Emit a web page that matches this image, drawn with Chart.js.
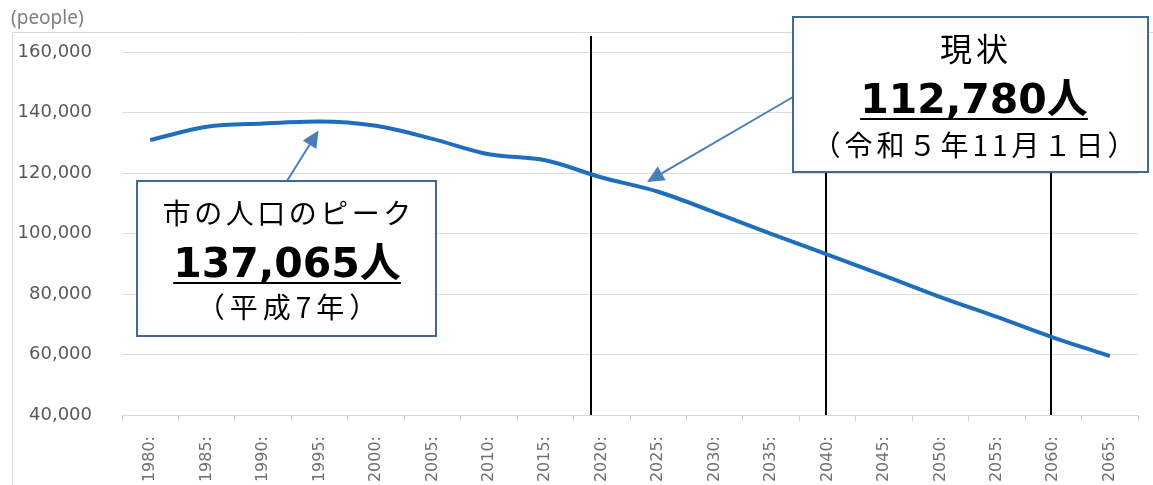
<!DOCTYPE html>
<html>
<head>
<meta charset="utf-8">
<script src="https://cdn.jsdelivr.net/npm/chart.js@4/dist/chart.umd.min.js"></script>
<style>
html,body{margin:0;padding:0;background:#fff;}
#wrap{position:relative;width:1153px;height:485px;}
canvas{display:block;}
</style>
</head>
<body>
<div id="wrap"><canvas id="c" width="1153" height="485"></canvas></div>
<script>
// ---- data ----
const years = ['1980','1985','1990','1995','2000','2005','2010','2015','2020','2025','2030','2035','2040','2045','2050','2055','2060','2065'];
const yearLabels = years.map(y => y + ':');
const population = [130900,135300,136400,137065,135600,131300,126200,124200,118500,113800,107000,99900,93000,86100,79000,72400,65600,59500];
const yTicks = [40000,60000,80000,100000,120000,140000,160000];
const markerYears = [2019.2, 2040, 2060];
const peakText = ['市の人口のピーク', '137,065人', '（平成7年）'];
const nowText = ['現状', '112,780人', '（令和５年11月１日）'];
const unitText = '(people)';

const CJK = '"Noto Sans CJK JP", sans-serif';
const BOLDNUM = '"DejaVu Sans", "Noto Sans CJK JP", sans-serif';

function arrow(ctx, x1, y1, x2, y2, color) {
  const ang = Math.atan2(y2 - y1, x2 - x1);
  const hl = 17, hw = 8;
  const bx = x2 - hl * Math.cos(ang), by = y2 - hl * Math.sin(ang);
  ctx.save();
  ctx.strokeStyle = color; ctx.fillStyle = color; ctx.lineWidth = 2;
  ctx.beginPath(); ctx.moveTo(x1, y1); ctx.lineTo(bx, by); ctx.stroke();
  ctx.beginPath();
  ctx.moveTo(x2, y2);
  ctx.lineTo(bx + hw * Math.sin(ang), by - hw * Math.cos(ang));
  ctx.lineTo(bx - hw * Math.sin(ang), by + hw * Math.cos(ang));
  ctx.closePath(); ctx.fill();
  ctx.restore();
}

function spaced(ctx, text, cx, y, ls) {
  ctx.letterSpacing = ls + 'px';
  ctx.fillText(text, cx + ls / 2, y);
  ctx.letterSpacing = '0px';
}

function box(ctx, x, y, w, h, cx, cfg, ys) {
  ctx.save();
  ctx.fillStyle = '#ffffff';
  ctx.fillRect(x, y, w, h);
  ctx.strokeStyle = '#41689a'; ctx.lineWidth = 2;
  ctx.strokeRect(x, y, w, h);
  ctx.fillStyle = '#000';
  ctx.textAlign = 'center';
  ctx.font = cfg.f1;
  ctx.textBaseline = 'middle';
  spaced(ctx, cfg.t[0], cx, ys[0], cfg.ls1);
  ctx.font = 'bold 41px ' + BOLDNUM;
  ctx.textBaseline = 'alphabetic';
  ctx.fillText(cfg.t[1], cx, ys[1]);
  const tw = ctx.measureText(cfg.t[1]).width;
  ctx.fillRect(cx - tw / 2, ys[1] + 5, tw, 2);
  ctx.font = '28px ' + CJK;
  ctx.textBaseline = 'middle';
  spaced(ctx, cfg.t[2], cx, ys[2], cfg.ls3);
  ctx.restore();
}

const decor = {
  id: 'decor',
  beforeDraw(chart) {
    const ctx = chart.ctx;
    ctx.save();
    ctx.strokeStyle = '#d9d9d9'; ctx.lineWidth = 1;
    ctx.beginPath();
    ctx.moveTo(12.5, 490); ctx.lineTo(12.5, 32.5); ctx.lineTo(1160, 32.5);
    ctx.stroke();
    ctx.fillStyle = '#7f7f7f';
    ctx.font = '19px "Noto Sans", sans-serif';
    ctx.textBaseline = 'alphabetic'; ctx.textAlign = 'left';
    ctx.fillText(unitText, 11, 24);
    ctx.restore();
  },
  beforeDatasetsDraw(chart) {
    const ctx = chart.ctx, xs = chart.scales.x, area = chart.chartArea;
    ctx.save();
    ctx.strokeStyle = '#000'; ctx.lineWidth = 2;
    markerYears.forEach(yr => {
      const idx = (yr - Number(years[0])) / 5;
      const px = Math.round(xs.getPixelForValue(idx)) - 2;
      ctx.beginPath(); ctx.moveTo(px, 36); ctx.lineTo(px, area.bottom); ctx.stroke();
    });
    ctx.restore();
  },
  afterDraw(chart) {
    const ctx = chart.ctx, xs = chart.scales.x, ys = chart.scales.y;
    const peakIdx = population.indexOf(Math.max(...population));
    const tipX = xs.getPixelForValue(peakIdx) - 1;
    const tipY = ys.getPixelForValue(population[peakIdx]) + 9;
    arrow(ctx, 287, 181, tipX, tipY, '#4a7ebb');
    arrow(ctx, 793, 97, 647, 182, '#4a7ebb');
    box(ctx, 137, 181, 299, 155, 287,
      {t: peakText, f1: '28px ' + CJK, ls1: 3.5, ls3: 5}, [213, 277, 307]);
    box(ctx, 793, 17, 355, 155, 974,
      {t: nowText, f1: '32px ' + CJK, ls1: 4, ls3: 4}, [49, 113, 145]);
  }
};

new Chart(document.getElementById('c'), {
  type: 'line',
  data: {
    labels: yearLabels,
    datasets: [{
      data: population,
      borderColor: '#1f6ebd',
      borderWidth: 4,
      pointRadius: 0,
      fill: false,
      cubicInterpolationMode: 'monotone'
    }]
  },
  options: {
    responsive: false,
    animation: false,
    events: [],
    layout: {padding: {left: 0, right: 15, top: 52, bottom: 0}},
    plugins: {legend: {display: false}, tooltip: {enabled: false}, title: {display: false}},
    scales: {
      x: {
        type: 'category',
        offset: true,
        afterFit(s) { s.height = 70; },
        grid: {offset: true, drawOnChartArea: false, drawTicks: true, tickLength: 6, color: '#d0d0d0'},
        border: {color: '#d9d9d9'},
        ticks: {minRotation: 90, maxRotation: 90, autoSkip: false, padding: 15,
          color: '#707070', font: {family: '"DejaVu Sans", sans-serif', size: 16}}
      },
      y: {
        min: yTicks[0], max: yTicks[yTicks.length - 1],
        afterFit(s) { s.width = 122; },
        afterBuildTicks(s) { s.ticks = yTicks.map(v => ({value: v})); },
        grid: {color: '#dedede', drawTicks: false},
        border: {display: false},
        ticks: {padding: 30, color: '#595959',
          font: {family: '"DejaVu Sans", sans-serif', size: 18},
          callback: v => v.toLocaleString('en-US')}
      }
    }
  },
  plugins: [decor]
});
</script>
</body>
</html>
